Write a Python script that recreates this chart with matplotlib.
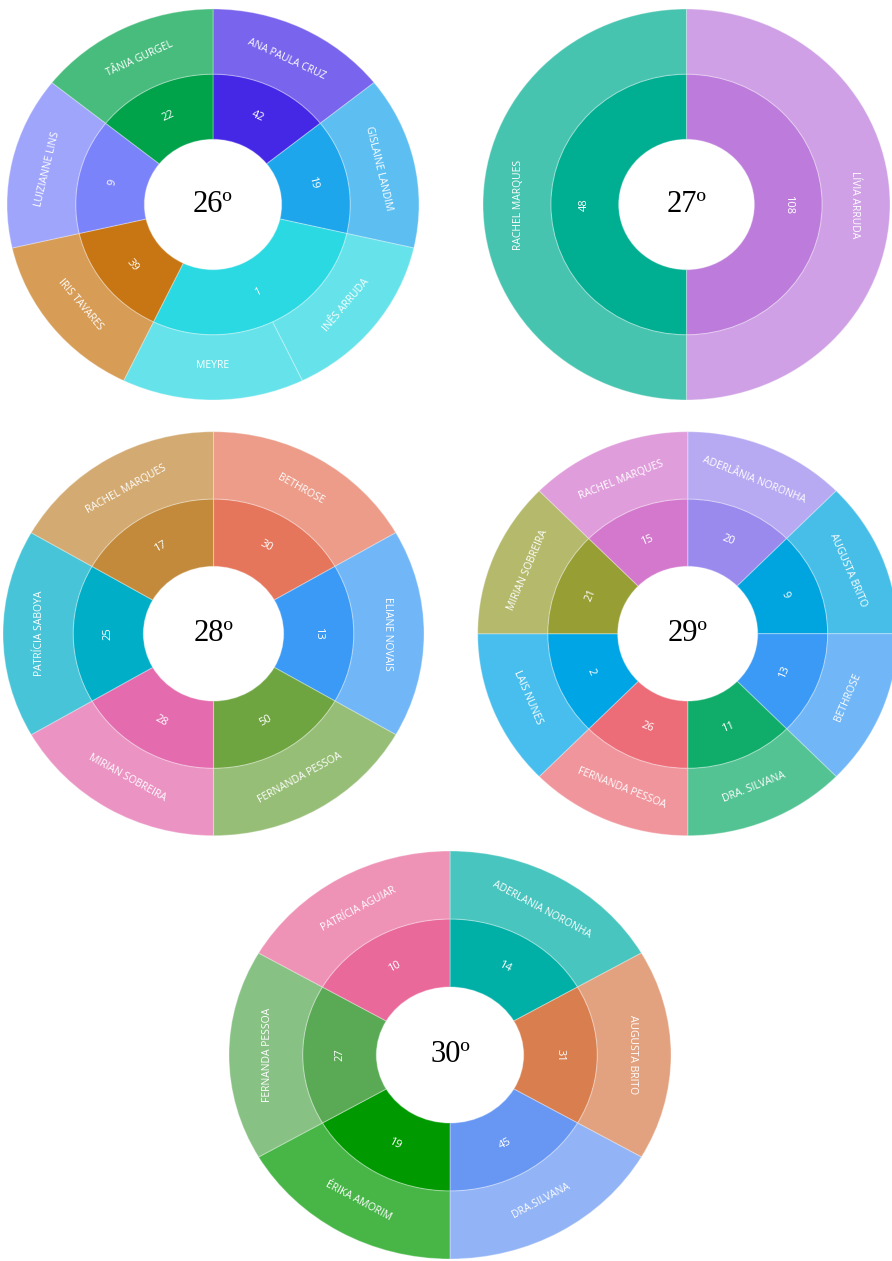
import matplotlib
matplotlib.use("Agg")
from matplotlib import pyplot as plt
from matplotlib.colors import to_rgba
import numpy as np

W, H = 892, 1261

# 26ª legislatura
names_26 = ["ANA PAULA CRUZ", "GISLAINE LANDIM", "INÊS ARRUDA", "MEYRE",
            "IRIS TAVARES", "LUIZIANNE LINS", "TÂNIA GURGEL"]
nums_26 = ["42", "19", "1", "1", "39", "9", "22"]
colors_26 = ["#4428e6", "#1da6ec", "#2bd9e3", "#c87614", "#7b83fb", "#00a24a"]

# 27ª legislatura
names_27 = ["LÍVIA ARRUDA", "RACHEL MARQUES"]
nums_27 = ["108", "48"]
colors_27 = ["#bd7cdb", "#00ae91"]

# 28ª legislatura
names_28 = ["BETHROSE", "ELIANE NOVAIS", "FERNANDA PESSOA", "MIRIAN SOBREIRA",
            "PATRÍCIA SABOYA", "RACHEL MARQUES"]
nums_28 = ["30", "13", "50", "28", "25", "17"]
colors_28 = ["#e5765c", "#3a9af5", "#6fa541", "#e46bae", "#00aec8", "#c28a3a"]

# 29ª legislatura
names_29 = ["ADERLÂNIA NORONHA", "AUGUSTA BRITO", "BETHROSE", "DRA. SILVANA",
            "FERNANDA PESSOA", "LAIS NUNES", "MIRIAN SOBREIRA", "RACHEL MARQUES"]
nums_29 = ["20", "9", "13", "11", "26", "2", "21", "15"]
colors_29 = ["#9b8aee", "#00a5e0", "#3a9af5", "#10ad6a", "#ec6c78", "#00a5e6",
             "#979e34", "#d478cd"]

# 30ª legislatura
names_30 = ["ADERLANIA NORONHA", "AUGUSTA BRITO", "DRA.SILVANA", "ÉRIKA AMORIM",
            "FERNANDA PESSOA", "PATRÍCIA AGUIAR"]
nums_30 = ["14", "31", "45", "19", "27", "10"]
colors_30 = ["#00afa6", "#d97e4e", "#6897f3", "#009a00", "#5aaa55", "#e9699a"]

titles = ["26º", "27º", "28º", "29º", "30º"]

# pixel boxes: center x, center y, radius x, radius y
boxes = [(213, 204.5, 206, 195.5),
         (686.5, 204.5, 203.5, 195.5),
         (213.5, 633.7, 210.5, 202),
         (687.7, 633.7, 210, 202),
         (450, 1055, 221, 204)]

EDGE = (1, 1, 1, 0.3)


def put_label(ax, wedge, r, text, rx, ry, size):
    phi = np.deg2rad((wedge.theta1 + wedge.theta2) / 2)
    x, y = r * np.cos(phi), r * np.sin(phi)
    ang = np.degrees(np.arctan2(-ry * np.cos(phi), rx * np.sin(phi)))
    if ang > 90.5:
        ang -= 180
    elif ang < -90.5:
        ang += 180
    ax.text(x, y, text, rotation=ang, rotation_mode="anchor",
            ha="center", va="center", color="white", fontsize=size,
            family="Open Sans")


def sunburst(ax, title, names, nums, colors, rx, ry):
    groups, counts = [], []
    for n in nums:
        if groups and groups[-1] == n:
            counts[-1] += 1
        else:
            groups.append(n)
            counts.append(1)
    outer_cols = []
    for c, k in zip(colors, counts):
        outer_cols += [to_rgba(c, 0.72)] * k

    inner, _ = ax.pie(counts, radius=2 / 3, startangle=90, counterclock=False,
                      colors=colors,
                      wedgeprops=dict(width=1 / 3, edgecolor=EDGE, linewidth=0.8))
    outer, _ = ax.pie([1] * len(names), radius=1, startangle=90,
                      counterclock=False, colors=outer_cols,
                      wedgeprops=dict(width=1 / 3, edgecolor=EDGE, linewidth=0.8))
    ax.set_aspect("auto")
    ax.set_xlim(-1, 1)
    ax.set_ylim(-1, 1)
    ax.axis("off")

    for w, g in zip(inner, groups):
        put_label(ax, w, 0.5, g, rx, ry, 8)
    for w, n in zip(outer, names):
        put_label(ax, w, 0.825, n, rx, ry, 7.5)
    ax.text(0, 0.0, title, ha="center", va="center", fontsize=22,
            family="Liberation Serif", color="black")


fig = plt.figure(figsize=(W / 100, H / 100), dpi=100)
data = [(names_26, nums_26, colors_26), (names_27, nums_27, colors_27),
        (names_28, nums_28, colors_28), (names_29, nums_29, colors_29),
        (names_30, nums_30, colors_30)]

for (names, nums, colors), title, (cx, cy, rx, ry) in zip(data, titles, boxes):
    ax = fig.add_axes([(cx - rx) / W, (H - cy - ry) / H, 2 * rx / W, 2 * ry / H])
    sunburst(ax, title, names, nums, colors, rx, ry)

fig.savefig("out.png", dpi=100, facecolor="white")
